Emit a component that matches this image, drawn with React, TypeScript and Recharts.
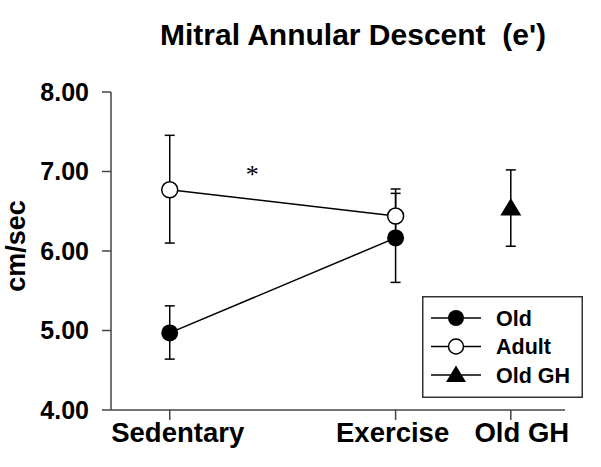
import React from 'react';
import { ComposedChart, Line, XAxis, YAxis, ErrorBar, ReferenceDot, Customized } from 'recharts';

// ---- data ----
const categoryLabels = ['Sedentary', 'Exercise', 'Old GH'];
const categoryX = [1, 3, 4.02];
const oldMean = [4.97, 6.165];
const oldLow = [4.64, 5.605];
const oldHigh = [5.31, 6.725];
const adultMean = [6.77, 6.44];
const adultLow = [6.1, 6.1];
const adultHigh = [7.455, 6.78];
const oldGhMean = [6.54];
const oldGhLow = [6.06];
const oldGhHigh = [7.02];
const yTicks = [4, 5, 6, 7, 8];
const annotationX = [1.73];
const annotationY = [7.0];
const titleText = "Mitral Annular Descent  (e')";
const yLabelText = 'cm/sec';
const legendNames = ['Old', 'Adult', 'Old GH'];

const build = (xs: number[], mean: number[], low: number[], high: number[]) =>
  mean.map((m, i) => ({ x: xs[i], y: m, err: [m - low[i], high[i] - m] }));

const oldData = build(categoryX.slice(0, 2), oldMean, oldLow, oldHigh);
const adultData = build(categoryX.slice(0, 2), adultMean, adultLow, adultHigh);
const oldGhData = build(categoryX.slice(2), oldGhMean, oldGhLow, oldGhHigh);

const FONT = '"Liberation Sans", Arial, Helvetica, sans-serif';
const tickShift = [8, -3, 11];

const FilledDot = (p: any) => <circle key={`f${p.index}`} cx={p.cx} cy={p.cy} r={8.5} fill="#000" />;
const OpenDot = (p: any) => (
  <circle key={`o${p.index}`} cx={p.cx} cy={p.cy} r={8} fill="#fff" stroke="#000" strokeWidth={1.5} />
);
const TriDot = (p: any) => (
  <polygon
    key={`t${p.index}`}
    points={`${p.cx},${p.cy - 10} ${p.cx - 10.5},${p.cy + 7.5} ${p.cx + 10.5},${p.cy + 7.5}`}
    fill="#000"
  />
);

const XTick = (p: any) => {
  const i = categoryX.indexOf(p.payload.value);
  return (
    <text
      x={p.x + (tickShift[i] ?? 0)}
      y={p.y + 21.5}
      textAnchor="middle"
      fontSize={27.5}
      fontWeight="bold"
      fontFamily={FONT}
      fill="#000"
    >
      {categoryLabels[i]}
    </text>
  );
};

const LegendBox = () => {
  const rows = [22, 50.5, 79];
  return (
    <g transform="translate(422,296)">
      <rect x={0.75} y={0.75} width={159.5} height={100.5} fill="#fff" stroke="#333" strokeWidth={1.5} />
      {rows.map((ry, i) => (
        <g key={i}>
          <line x1={9} x2={59} y1={ry} y2={ry} stroke="#000" strokeWidth={1.5} />
          {i === 0 && <circle cx={34} cy={ry} r={8} fill="#000" />}
          {i === 1 && <circle cx={34} cy={ry} r={7.5} fill="#fff" stroke="#000" strokeWidth={1.5} />}
          {i === 2 && <polygon points={`34,${ry - 9.5} 24,${ry + 7} 44,${ry + 7}`} fill="#000" />}
          <text x={74} y={ry + 7.8} fontSize={21.5} fontWeight="bold" fontFamily={FONT} fill="#000">
            {legendNames[i]}
          </text>
        </g>
      ))}
    </g>
  );
};

const Title = () => (
  <g>
    <text x={353} y={45} textAnchor="middle" fontSize={30} fontWeight="bold" fontFamily={FONT} fill="#000" style={{ whiteSpace: 'pre' }}>
      {titleText}
    </text>
    <text
      x={25}
      y={246}
      transform="rotate(-90 25 246)"
      textAnchor="middle"
      fontSize={27}
      fontWeight="bold"
      fontFamily={FONT}
      fill="#000"
    >
      {yLabelText}
    </text>
  </g>
);

const Asterisk = (p: any) => (
  <text x={p.cx} y={p.cy + 11} textAnchor="middle" fontSize={26} fontFamily='"Liberation Serif", "Times New Roman", serif' fill="#000">
    *
  </text>
);

export default function App() {
  return (
    <div style={{ position: 'absolute', left: 0, top: 0, width: 601, height: 467, background: '#fff' }}>
      <ComposedChart width={601} height={467} margin={{ top: 92, right: 36, bottom: 0, left: 0 }}>
        <XAxis
          dataKey="x"
          type="number"
          domain={[0.48, 4.5]}
          ticks={categoryX}
          interval={0}
          allowDataOverflow
          tickSize={10}
          tickMargin={0}
          height={57}
          stroke="#444"
          strokeWidth={1.5}
          tick={XTick}
        />
        <YAxis
          type="number"
          domain={[4, 8]}
          ticks={yTicks}
          interval={0}
          allowDataOverflow
          tickFormatter={(v: number) => v.toFixed(2)}
          width={111}
          tickSize={9}
          tickMargin={13}
          stroke="#444"
          strokeWidth={1.5}
          tick={{ fill: '#000', fontSize: 25, fontWeight: 'bold', fontFamily: FONT }}
        />
        <Line data={oldData} dataKey="y" stroke="#000" strokeWidth={1.5} dot={FilledDot} activeDot={false} isAnimationActive={false} legendType="none">
          <ErrorBar dataKey="err" direction="y" width={5} stroke="#000" strokeWidth={1.5} isAnimationActive={false} />
        </Line>
        <Line data={adultData} dataKey="y" stroke="#000" strokeWidth={1.5} dot={OpenDot} activeDot={false} isAnimationActive={false} legendType="none">
          <ErrorBar dataKey="err" direction="y" width={5} stroke="#000" strokeWidth={1.5} isAnimationActive={false} />
        </Line>
        <Line data={oldGhData} dataKey="y" stroke="#000" strokeWidth={1.5} dot={TriDot} activeDot={false} isAnimationActive={false} legendType="none">
          <ErrorBar dataKey="err" direction="y" width={5} stroke="#000" strokeWidth={1.5} isAnimationActive={false} />
        </Line>
        <ReferenceDot x={annotationX[0]} y={annotationY[0]} r={0} shape={Asterisk} ifOverflow="visible" />
        <Customized component={Title} />
        <Customized component={LegendBox} />
      </ComposedChart>
    </div>
  );
}
